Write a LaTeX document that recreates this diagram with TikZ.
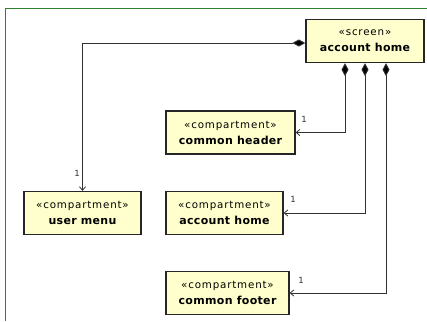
\documentclass[tikz,border=0pt]{standalone}
\usepackage{fontspec}
\setmainfont{DejaVu Sans}
\newfontfamily\stereofamily[LetterSpace=8]{DejaVu Sans}
\newfontfamily\namefamily[LetterSpace=3]{DejaVu Sans}
\usetikzlibrary{arrows.meta}
\definecolor{classfill}{RGB}{255,255,206}
\definecolor{framegreen}{RGB}{46,130,46}
\definecolor{edgegray}{RGB}{50,50,50}
\newcommand\stereofont{\stereofamily\mdseries\fontsize{10.3}{16}\selectfont}
\begin{document}
\begin{tikzpicture}[x=1pt,y=-1pt,
  cls/.style={draw=black!85, line width=1.3pt, fill=classfill, align=center,
    inner sep=0pt, minimum width=#1, minimum height=43pt,
    font=\namefamily\fontsize{11}{16}\selectfont\bfseries},
  cls/.default=118pt,
  comp/.style={draw=edgegray, line width=0.9pt,
    {Diamond[length=13pt,width=7pt,fill=black]}-{Straight Barb[length=3.5pt,width=6pt,line width=0.8pt]}},
  mult/.style={font=\fontsize{8.5}{8.5}\selectfont, inner sep=0pt, text=edgegray}]
\useasboundingbox (0,0) rectangle (427,321);
\fill[white] (0,0) rectangle (427,321);
% open frame along the top and left edges
\draw[framegreen, line width=0.8pt] (427,8) -- (5,8) -- (5,321);

% classes
\node[cls=118pt] (screen) at (365,41) {{\stereofont «screen»}\\account home};
\node[cls=129pt] (chead) at (230.5,132.5) {{\stereofont «compartment»}\\common header};
\node[cls=117pt] (umenu) at (82.5,213) {{\stereofont «compartment»}\\user menu};
\node[cls=117pt] (cah) at (224.5,213) {{\stereofont «compartment»}\\account home};
\node[cls=123pt] (cfoot) at (227.5,293) {{\stereofont «compartment»}\\common footer};

% composition links
\draw[comp] ([yshift=-2pt]screen.west) -| (umenu.north);
\draw[comp] ([xshift=-20pt]screen.south) |- (chead.east);
\draw[comp] (screen.south) |- (cah.east);
\draw[comp] ([xshift=21pt]screen.south) |- (cfoot.east);

% multiplicities
\node[mult] (m1) at (77,173) {1};
\node[mult] (m2) at (304,119) {1};
\node[mult] (m3) at (293,199) {1};
\node[mult] (m4) at (301,280) {1};
\end{tikzpicture}
\end{document}
